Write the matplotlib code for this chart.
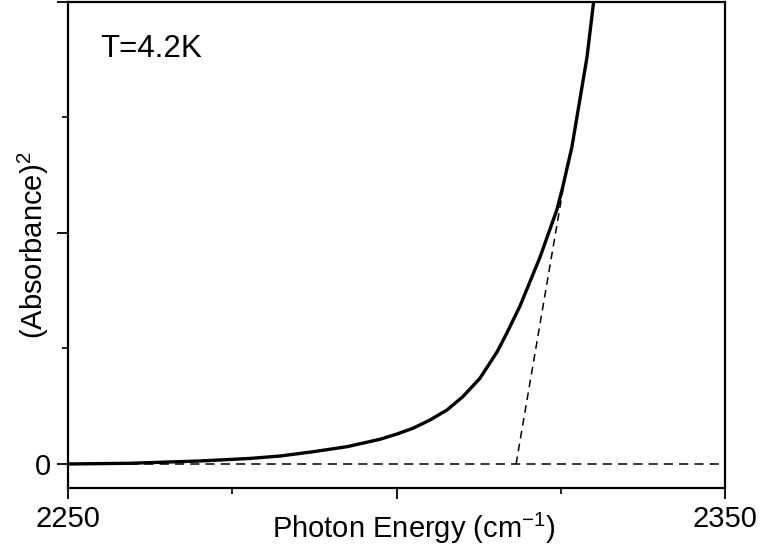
import matplotlib
matplotlib.use('Agg')
import matplotlib.pyplot as plt
from matplotlib.ticker import FixedLocator, FixedFormatter

# absorbance squared curve
energy = [2250.0, 2259.4, 2270.1, 2277.7, 2282.3, 2287.3, 2292.5, 2297.5,
          2300.1, 2302.5, 2305.1, 2307.7, 2310.1, 2312.7, 2315.3, 2316.8,
          2318.8, 2321.8, 2324.4, 2325.3, 2326.7, 2327.9, 2329.0, 2330.0]
abs_sq = [0.0, 0.006, 0.026, 0.048, 0.069, 0.106, 0.150, 0.214,
          0.260, 0.309, 0.381, 0.468, 0.583, 0.742, 0.970, 1.134,
          1.368, 1.784, 2.199, 2.398, 2.745, 3.152, 3.524, 4.0]

# linear extrapolation to the band edge
tangent_x = [2318.2, 2326.1]
tangent_y = [0.0, 2.63]

# baseline
base_x = [2250, 2350]
base_y = [0, 0]

x_major = [2250, 2300, 2350]
x_major_labels = ['2250', '', '2350']
x_minor = [2275, 2325]
y_major = [0, 2, 4]
y_major_labels = ['0', '', '']
y_minor = [1, 3]


def main():
    plt.rcParams['font.family'] = ['Liberation Sans', 'DejaVu Sans']
    plt.rcParams['mathtext.fontset'] = 'custom'
    plt.rcParams['mathtext.rm'] = 'Liberation Sans'

    fig = plt.figure(figsize=(7.62, 5.49), dpi=100)
    ax = fig.add_axes([68 / 762, 1 - 488 / 549, 657 / 762, 486 / 549])

    ax.plot(energy, abs_sq, color='black', lw=2.4, solid_joinstyle='round')
    ax.plot(tangent_x, tangent_y, color='black', lw=1.1, dashes=(5, 3.5))
    ax.plot(base_x, base_y, color='black', lw=1.1, dashes=(6, 4))

    ax.set_xlim(2250, 2350)
    ax.set_ylim(-0.208, 4.0)

    ax.xaxis.set_major_locator(FixedLocator(x_major))
    ax.xaxis.set_major_formatter(FixedFormatter(x_major_labels))
    ax.xaxis.set_minor_locator(FixedLocator(x_minor))
    ax.yaxis.set_major_locator(FixedLocator(y_major))
    ax.yaxis.set_major_formatter(FixedFormatter(y_major_labels))
    ax.yaxis.set_minor_locator(FixedLocator(y_minor))

    ax.tick_params(which='major', direction='out', length=8, width=1.3,
                   labelsize=21, pad=4)
    ax.tick_params(which='minor', direction='out', length=4, width=1.2)
    for s in ax.spines.values():
        s.set_linewidth(1.6)

    ax.set_xlabel(r'Photon Energy (cm$^{\mathregular{-1}}$)', fontsize=21)
    ax.xaxis.set_label_coords(0.527, -0.047)
    ax.set_ylabel(r'(Absorbance)$^{\mathregular{2}}$', fontsize=21)
    ax.yaxis.set_label_coords(-0.026, 0.5)

    ax.text(0.049, 0.887, 'T=4.2K', transform=ax.transAxes, fontsize=22.5,
            va='baseline', ha='left')

    fig.savefig('out.png', dpi=100)


if __name__ == '__main__':
    main()
